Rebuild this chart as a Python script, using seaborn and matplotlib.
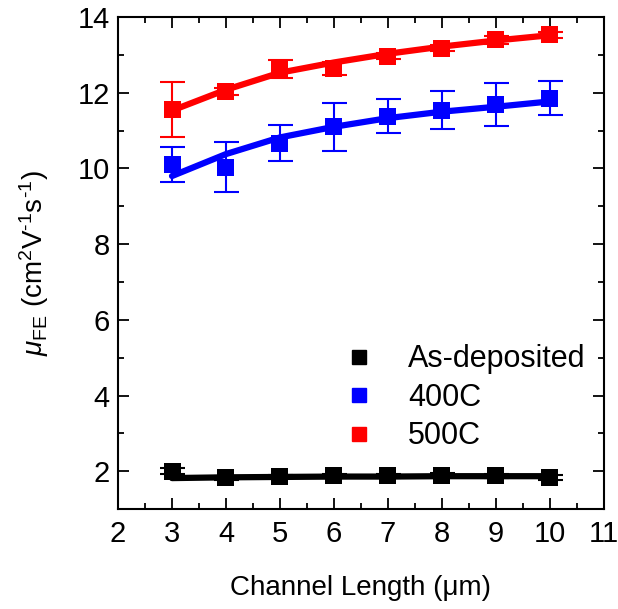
import matplotlib
matplotlib.use("Agg")
import matplotlib.pyplot as plt
import seaborn as sns
import pandas as pd
from matplotlib.lines import Line2D
from matplotlib.ticker import MultipleLocator

channel_length = [3, 4, 5, 6, 7, 8, 9, 10]

as_dep_mu = [2.00, 1.83, 1.86, 1.88, 1.88, 1.90, 1.88, 1.83]
as_dep_err = [0.08, 0.05, 0.05, 0.05, 0.05, 0.05, 0.05, 0.06]
as_dep_fit = [1.82, 1.84, 1.85, 1.86, 1.86, 1.87, 1.87, 1.87]

c400_mu = [10.10, 10.03, 10.67, 11.10, 11.38, 11.54, 11.68, 11.85]
c400_err = [0.46, 0.66, 0.47, 0.63, 0.45, 0.50, 0.57, 0.45]
c400_fit = [9.80, 10.38, 10.82, 11.10, 11.33, 11.50, 11.63, 11.77]

c500_mu = [11.55, 12.03, 12.63, 12.65, 12.97, 13.17, 13.40, 13.53]
c500_err = [0.73, 0.10, 0.23, 0.17, 0.08, 0.08, 0.10, 0.08]
c500_fit = [11.53, 12.08, 12.53, 12.80, 13.03, 13.22, 13.38, 13.52]

labels = ["As-deposited", "400C", "500C"]
colors = ["#000000", "#0000ff", "#ff0000"]

sns.set_theme(style="ticks")
plt.rcParams['font.family'] = ['Liberation Sans', 'DejaVu Sans']
plt.rcParams['mathtext.fontset'] = 'custom'
plt.rcParams['mathtext.rm'] = 'Liberation Sans'
plt.rcParams['mathtext.it'] = 'Liberation Sans:italic'
for k in ['text.color', 'axes.labelcolor', 'xtick.color', 'ytick.color', 'axes.edgecolor']:
    plt.rcParams[k] = 'black'

fig = plt.figure(figsize=(6.18, 6.09), dpi=100)
ax = fig.add_axes([0.191, 0.164, 0.786, 0.808])

series = [(as_dep_mu, as_dep_err, as_dep_fit), (c400_mu, c400_err, c400_fit), (c500_mu, c500_err, c500_fit)]
rows = []
for lab, (mu, err, fit) in zip(labels, series):
    for x, m, e, f in zip(channel_length, mu, err, fit):
        rows.append(dict(L=x, mu=m, err=e, fit=f, group=lab))
df = pd.DataFrame(rows)

pal = dict(zip(labels, colors))
for lab in labels:
    d = df[df.group == lab]
    ax.errorbar(d.L, d.mu, yerr=d.err, fmt='none', ecolor=pal[lab], elinewidth=1.5,
                capsize=9, capthick=1.5, zorder=2)
sns.scatterplot(data=df, x="L", y="mu", hue="group", palette=pal, marker="s", s=150,
                edgecolor="none", legend=False, ax=ax, zorder=3)
sns.lineplot(data=df, x="L", y="fit", hue="group", palette=pal, linewidth=4.5,
             legend=False, ax=ax, zorder=4, sort=True)

ax.set_xlim(2, 11)
ax.set_ylim(1, 14)
ax.xaxis.set_major_locator(MultipleLocator(1))
ax.xaxis.set_minor_locator(MultipleLocator(0.5))
ax.yaxis.set_major_locator(MultipleLocator(2))
ax.yaxis.set_minor_locator(MultipleLocator(1))
ax.tick_params(which='both', direction='in', top=True, right=True, width=1.3, colors='black')
ax.tick_params(which='major', length=8, labelsize=21)
ax.tick_params(axis='y', which='major', pad=6)
ax.tick_params(axis='x', which='major', pad=8)
ax.tick_params(which='minor', length=4)
for s in ax.spines.values():
    s.set_linewidth(1.5)
    s.set_color('black')

ax.set_xlabel("Channel Length (\u03bcm)", fontsize=20, labelpad=19)
ax.set_ylabel(r"$\mathit{\mu}_{\mathrm{FE}}$ (cm$^2$V$^{\text{-}1}$s$^{\text{-}1}$)", fontsize=20, labelpad=19)

handles = [Line2D([], [], marker='s', linestyle='none', color=c, markersize=10) for c in colors]
ax.legend(handles, labels, loc='lower right', bbox_to_anchor=(1.0, 0.08), frameon=False,
          fontsize=22, handletextpad=0.6, labelspacing=0.28, borderaxespad=0.2)

fig.savefig("out.png", dpi=100)
